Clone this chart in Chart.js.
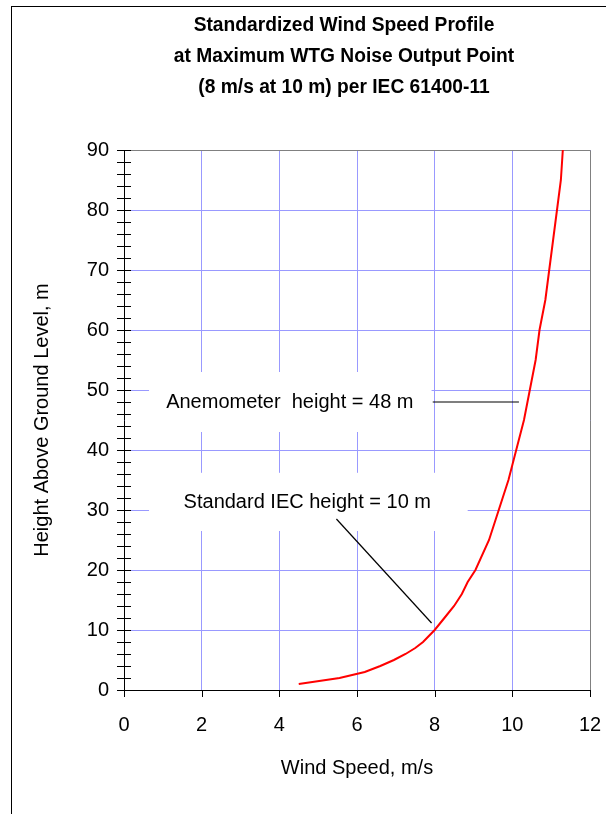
<!DOCTYPE html>
<html lang="en">
<head>
<meta charset="UTF-8">
<title>Standardized Wind Speed Profile</title>
<script src="https://cdn.jsdelivr.net/npm/chart.js"></script>
<style>
  html, body { margin: 0; padding: 0; background: #fff; }
</style>
</head>
<body>
<canvas id="profileChart" width="606" height="814"></canvas>
<script>
// height above ground level (m) and wind speed (m/s)
const heights = [1, 2, 3, 4, 5, 6, 7, 8, 9, 10, 12, 14, 16, 18, 20, 25, 30, 35, 40, 45, 50, 55, 60, 65, 70, 75, 80, 85, 90];
const speeds  = [4.5, 5.55, 6.2, 6.6, 6.95, 7.25, 7.5, 7.7, 7.85, 8.0, 8.25, 8.5, 8.7, 8.85, 9.05, 9.4, 9.65, 9.9, 10.1, 10.3, 10.45, 10.6, 10.7, 10.85, 10.95, 11.05, 11.15, 11.25, 11.3];

const xTicks = [0, 2, 4, 6, 8, 10, 12];
const yTicks = [0, 10, 20, 30, 40, 50, 60, 70, 80, 90];

const titleLines = [
  'Standardized Wind Speed Profile',
  'at Maximum WTG Noise Output Point',
  '(8 m/s at 10 m) per IEC 61400-11'
];
const xTitle = 'Wind Speed, m/s';
const yTitle = 'Height Above Ground Level, m';

const FONT = "'Liberation Sans', Arial, sans-serif";

// callout notes, placed in data units
const notes = [
  { text: 'Anemometer  height = 48 m', x: 4.27, y: 48, box: [0.645, 53, 7.92, 43], line: [7.95, 48, 10.17, 48] },
  { text: 'Standard IEC height = 10 m', x: 4.72, y: 31.3, box: [0.645, 36.2, 8.85, 26.5], line: [5.47, 28.5, 7.92, 11.17] }
];

const crisp = v => Math.round(v) + 0.5;

const decorations = {
  id: 'decorations',
  beforeDraw(chart) {
    const ctx = chart.ctx;
    ctx.save();
    ctx.fillStyle = '#fff';
    ctx.fillRect(0, 0, chart.width, chart.height);
    // outer frame
    ctx.strokeStyle = '#000';
    ctx.lineWidth = 1;
    ctx.strokeRect(11.5, 6.5, 800, 1000);
    // title, squeezed a little to the narrow face of the original
    ctx.fillStyle = '#000';
    ctx.font = 'bold 20px ' + FONT;
    ctx.textAlign = 'center';
    ctx.textBaseline = 'middle';
    ctx.translate(344, 0);
    ctx.scale(0.96, 1);
    titleLines.forEach((t, i) => ctx.fillText(t, 0, 25.5 + i * 31));
    ctx.restore();
  },
  beforeDatasetsDraw(chart) {
    const ctx = chart.ctx;
    const xs = chart.scales.x, ys = chart.scales.y;
    const a = chart.chartArea;
    ctx.save();
    notes.forEach(n => {
      const x1 = xs.getPixelForValue(n.box[0]), y1 = ys.getPixelForValue(n.box[1]);
      const x2 = xs.getPixelForValue(n.box[2]), y2 = ys.getPixelForValue(n.box[3]);
      ctx.fillStyle = '#fff';
      ctx.fillRect(x1, y1, x2 - x1, y2 - y1);
    });
    // grey top and right plot border
    ctx.strokeStyle = '#808080';
    ctx.lineWidth = 1;
    ctx.beginPath();
    ctx.moveTo(crisp(a.left), crisp(a.top));
    ctx.lineTo(crisp(a.right), crisp(a.top));
    ctx.lineTo(crisp(a.right), crisp(a.bottom));
    ctx.stroke();
    notes.forEach(n => {
      ctx.strokeStyle = '#000';
      ctx.lineWidth = 1.2;
      ctx.beginPath();
      ctx.moveTo(xs.getPixelForValue(n.line[0]), ys.getPixelForValue(n.line[1]));
      ctx.lineTo(xs.getPixelForValue(n.line[2]), ys.getPixelForValue(n.line[3]));
      ctx.stroke();
      ctx.fillStyle = '#000';
      ctx.font = '20px ' + FONT;
      ctx.textAlign = 'center';
      ctx.textBaseline = 'middle';
      ctx.fillText(n.text, xs.getPixelForValue(n.x), ys.getPixelForValue(n.y));
    });
    ctx.restore();
  },
  afterDraw(chart) {
    const ctx = chart.ctx;
    const xs = chart.scales.x, ys = chart.scales.y;
    const a = chart.chartArea;
    ctx.save();
    ctx.strokeStyle = '#000';
    ctx.lineWidth = 1;
    ctx.beginPath();
    // y ticks every 2 m crossing the axis
    for (let v = yTicks[0]; v <= yTicks[yTicks.length - 1]; v += 2) {
      const y = crisp(ys.getPixelForValue(v));
      ctx.moveTo(a.left - 7, y);
      ctx.lineTo(a.left + 7, y);
    }
    // x ticks pointing down
    xTicks.forEach(v => {
      const x = crisp(xs.getPixelForValue(v));
      ctx.moveTo(x, a.bottom);
      ctx.lineTo(x, a.bottom + 7);
    });
    ctx.stroke();
    ctx.restore();
  }
};

new Chart(document.getElementById('profileChart'), {
  type: 'scatter',
  data: {
    datasets: [{
      label: 'Wind speed profile',
      data: heights.map((h, i) => ({ x: speeds[i], y: h })),
      showLine: true,
      borderColor: '#ff0000',
      borderWidth: 2,
      pointRadius: 0,
      tension: 0,
      fill: false
    }]
  },
  options: {
    responsive: false,
    animation: false,
    devicePixelRatio: 1,
    layout: { padding: { left: 0, right: 16, top: 150, bottom: 0 } },
    plugins: {
      legend: { display: false },
      title: { display: false },
      tooltip: { enabled: false }
    },
    scales: {
      x: {
        type: 'linear',
        min: xTicks[0],
        max: xTicks[xTicks.length - 1],
        afterBuildTicks: s => { s.ticks = xTicks.map(v => ({ value: v })); },
        ticks: { color: '#000', padding: 23, font: { family: FONT, size: 20 } },
        grid: { color: '#9999ff', lineWidth: 1, drawTicks: false },
        border: { color: '#000', width: 1 },
        title: { display: true, text: xTitle, color: '#000', font: { family: FONT, size: 20 }, padding: { top: 0, bottom: 34 } },
        afterFit: s => { s.height = 124; s.paddingLeft = 0; s.paddingRight = 0; }
      },
      y: {
        type: 'linear',
        min: yTicks[0],
        max: yTicks[yTicks.length - 1],
        afterBuildTicks: s => { s.ticks = yTicks.map(v => ({ value: v })); },
        ticks: { color: '#000', padding: 15, font: { family: FONT, size: 20 } },
        grid: { color: '#9999ff', lineWidth: 1, drawTicks: false },
        border: { color: '#000', width: 1 },
        title: { display: true, text: yTitle, color: '#000', font: { family: FONT, size: 20 }, padding: { top: 30, bottom: 0 } },
        afterFit: s => { s.width = 124; s.paddingTop = 0; s.paddingBottom = 0; }
      }
    }
  },
  plugins: [decorations]
});
</script>
</body>
</html>
